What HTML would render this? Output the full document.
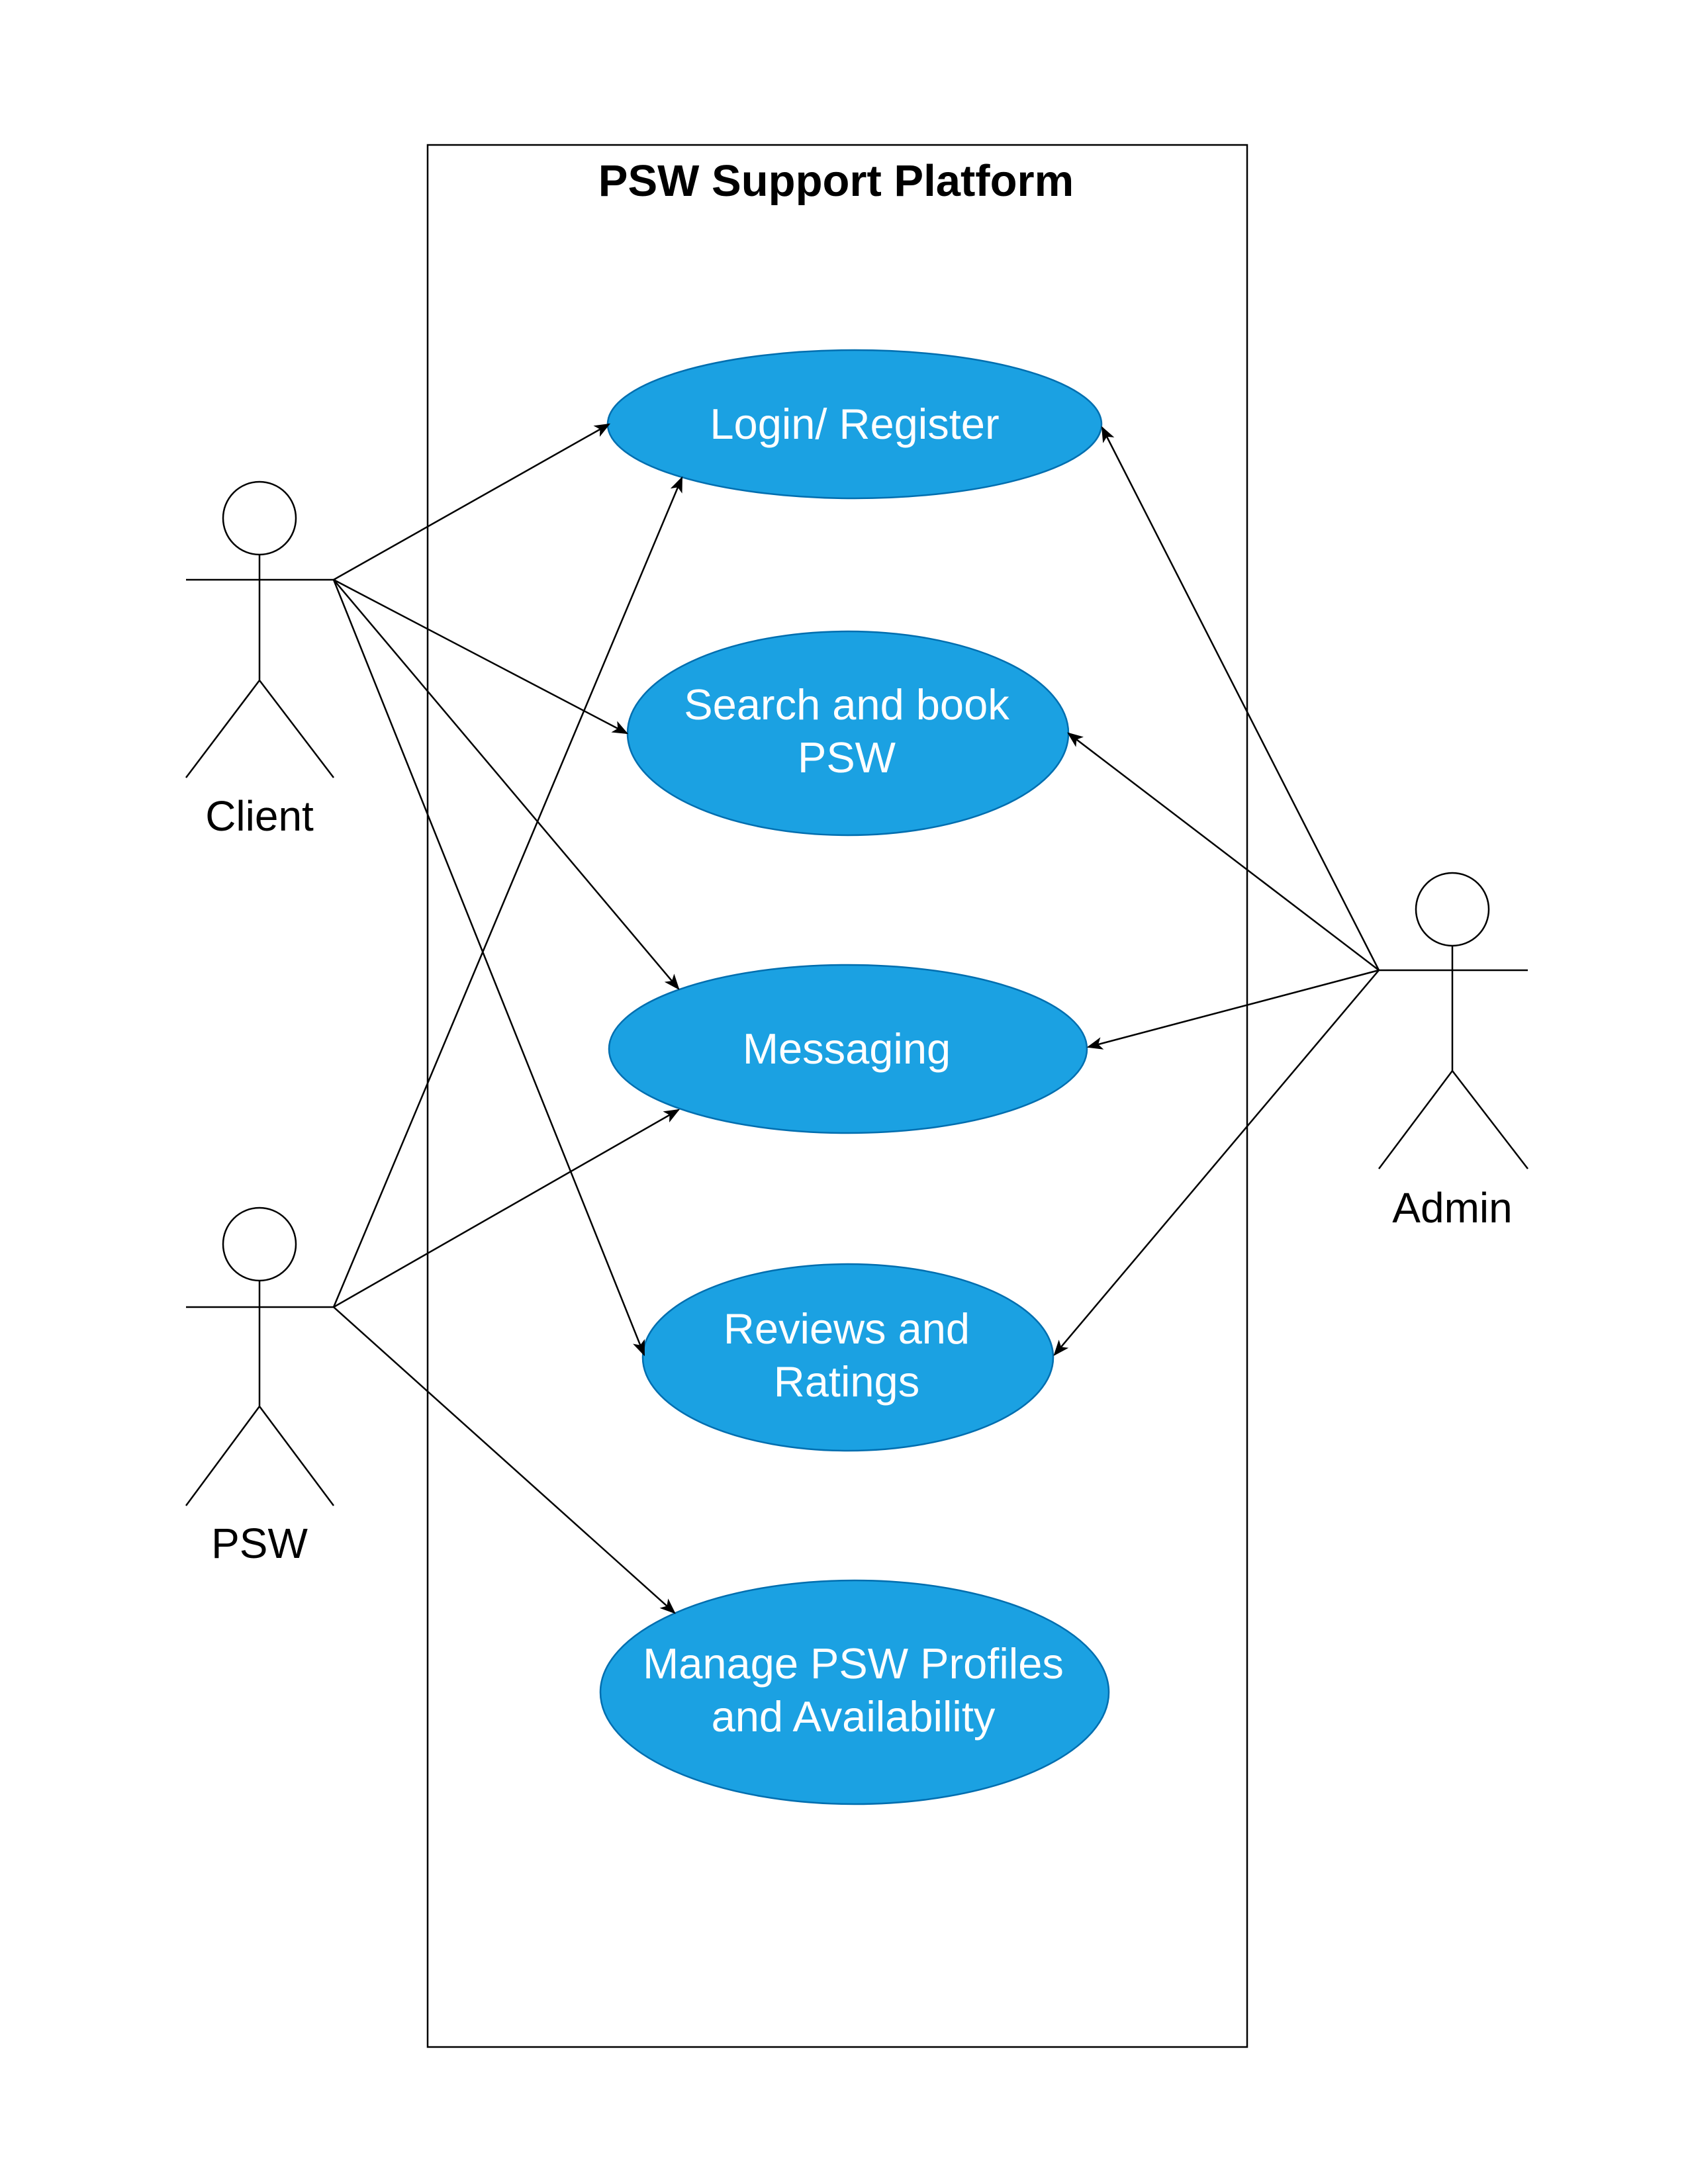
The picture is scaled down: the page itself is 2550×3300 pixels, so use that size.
<!DOCTYPE html>
<html><head><meta charset="utf-8"><style>html,body{margin:0;padding:0;background:#fff}svg{display:block}</style></head>
<body>
<svg width="2550" height="3300" viewBox="0 0 2550 3300" xmlns="http://www.w3.org/2000/svg" font-family="'Liberation Sans', Arial, sans-serif">
<defs>
<marker id="a" viewBox="0 0 20 20" refX="18" refY="10" markerWidth="24" markerHeight="24" markerUnits="userSpaceOnUse" orient="auto">
<path d="M0,2 L20,10 L0,18 L5,10 Z" fill="#000"/>
</marker>
</defs>
<rect x="646" y="219" width="1238" height="2874" fill="#fff" stroke="#000" stroke-width="2.5"/>
<text x="1263" y="296" font-size="67" font-weight="bold" text-anchor="middle">PSW Support Platform</text>

<g fill="#1ba1e2" stroke="#006eaf" stroke-width="2.5">
<ellipse cx="1291" cy="641" rx="373" ry="112"/>
<ellipse cx="1281" cy="1108" rx="333" ry="154"/>
<ellipse cx="1281" cy="1585" rx="361" ry="127"/>
<ellipse cx="1281" cy="2051" rx="310" ry="141"/>
<ellipse cx="1291" cy="2557" rx="384" ry="169"/>
</g>
<g fill="#fff" font-size="65" text-anchor="middle">
<text x="1291" y="663">Login/ Register</text>
<text x="1279" y="1087">Search and book</text>
<text x="1279" y="1167">PSW</text>
<text x="1279" y="1607">Messaging</text>
<text x="1279" y="2030">Reviews and</text>
<text x="1279" y="2110">Ratings</text>
<text x="1289" y="2536">Manage PSW Profiles</text>
<text x="1289" y="2616">and Availability</text>
</g>

<g fill="none" stroke="#000" stroke-width="2.5">
<circle cx="392" cy="783" r="55"/>
<path d="M281,876 H504 M392,838 V1028 L281,1175 M392,1028 L504,1175"/>
<circle cx="392" cy="1880" r="55"/>
<path d="M281,1975 H504 M392,1935 V2125 L281,2275 M392,2125 L504,2275"/>
<circle cx="2194" cy="1374" r="55"/>
<path d="M2083,1466 H2308 M2194,1429 V1618 L2083,1766 M2194,1618 L2308,1766"/>
</g>
<g font-size="64" text-anchor="middle">
<text x="392" y="1255">Client</text>
<text x="392" y="2354">PSW</text>
<text x="2194" y="1847">Admin</text>
</g>

<g stroke="#000" stroke-width="2.5" marker-end="url(#a)">
<line x1="504" y1="876" x2="920" y2="641"/>
<line x1="504" y1="876" x2="947" y2="1108"/>
<line x1="504" y1="876" x2="1025" y2="1494"/>
<line x1="504" y1="876" x2="973" y2="2047"/>
<line x1="504" y1="1975" x2="1030" y2="722"/>
<line x1="504" y1="1975" x2="1025" y2="1677"/>
<line x1="504" y1="1975" x2="1019" y2="2437"/>
<line x1="2083" y1="1466" x2="1665" y2="646"/>
<line x1="2083" y1="1466" x2="1614" y2="1108"/>
<line x1="2083" y1="1466" x2="1644" y2="1582"/>
<line x1="2083" y1="1466" x2="1593" y2="2047"/>
</g>
</svg>
</body></html>
